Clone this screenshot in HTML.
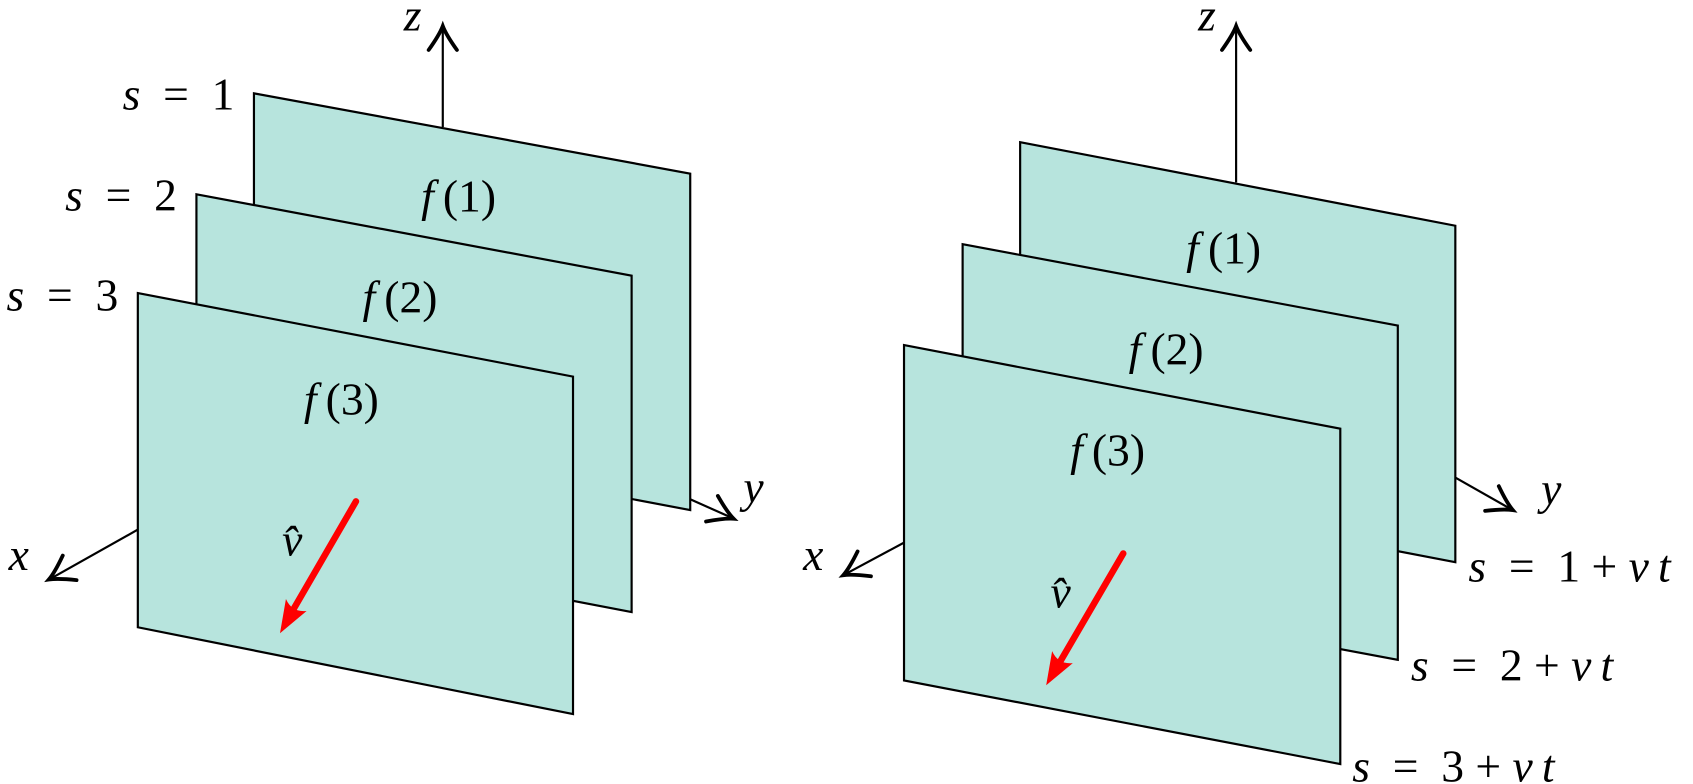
<!DOCTYPE html>
<html><head><meta charset="utf-8"><style>
html,body{margin:0;padding:0;background:#fff;}
svg{display:block;}
text{font-family:"Liberation Serif",serif;font-size:42px;fill:#000;}
.i{font-style:italic;}
</style></head><body>
<svg width="1693" height="784" viewBox="0 0 1560 722.4" xmlns="http://www.w3.org/2000/svg">
<defs>
<g id="ah"><path d="M-22,-13 Q-8,-3 0,0 Q-8,3 -22,13" fill="none" stroke="#000" stroke-width="3.5" stroke-linecap="round"/></g>
<g id="rh"><path d="M-26,-11 L4,0 L-26,11 Q-18,0 -26,-11Z" fill="#f00"/></g>
</defs>
<g stroke="#000" stroke-width="2" fill="#b7e4dd">
<line x1="408" y1="117" x2="408" y2="26" />
<use href="#ah" transform="translate(408,24) rotate(-90)"/>
<line x1="636" y1="460" x2="674" y2="477"/>
<use href="#ah" transform="translate(676,478) rotate(24.8)"/>
<polygon points="234,86 636,160 636,470 234,394"/>
<polygon points="181,179 582,254 582,564 181,487"/>
<polygon points="127,270 528,347 528,658 127,578"/>
<line x1="127" y1="488" x2="47" y2="533"/>
<use href="#ah" transform="translate(45,534) rotate(150.7)"/>
<line x1="1139" y1="168" x2="1139" y2="26"/>
<use href="#ah" transform="translate(1139,24) rotate(-90)"/>
<line x1="1341" y1="440" x2="1392" y2="469"/>
<use href="#ah" transform="translate(1394,470) rotate(29)"/>
<polygon points="940,131 1341,208 1341,518 940,441"/>
<polygon points="887,225 1288,300 1288,608 887,533"/>
<polygon points="833,318 1235,395 1235,704 833,627"/>
<line x1="833" y1="500" x2="779" y2="529"/>
<use href="#ah" transform="translate(777,530) rotate(151.7)"/>
</g>
<line x1="328" y1="462" x2="266" y2="569" stroke="#f00" stroke-width="6" stroke-linecap="round"/>
<use href="#rh" transform="translate(260,580) rotate(120)"/>
<line x1="1035" y1="510" x2="972" y2="618" stroke="#f00" stroke-width="6" stroke-linecap="round"/>
<use href="#rh" transform="translate(966,628) rotate(120)"/>
<text x="372" y="28" class="i">z</text>
<text x="685" y="463" class="i">y</text>
<text x="8" y="525" class="i">x</text>
<text x="113" y="101"><tspan class="i">s</tspan>&#8194;=&#8194;1</text>
<text x="60" y="194"><tspan class="i">s</tspan>&#8194;=&#8194;2</text>
<text x="6" y="286"><tspan class="i">s</tspan>&#8194;=&#8194;3</text>
<text x="388" y="195"><tspan class="i">f</tspan>&#8201;(1)</text>
<text x="334" y="288"><tspan class="i">f</tspan>&#8201;(2)</text>
<text x="280" y="382"><tspan class="i">f</tspan>&#8201;(3)</text>
<text x="260" y="512" class="i">v̂</text>
<text x="1104" y="28" class="i">z</text>
<text x="1420" y="465" class="i">y</text>
<text x="740" y="525" class="i">x</text>
<text x="1093" y="243"><tspan class="i">f</tspan>&#8201;(1)</text>
<text x="1040" y="336"><tspan class="i">f</tspan>&#8201;(2)</text>
<text x="986" y="429"><tspan class="i">f</tspan>&#8201;(3)</text>
<text x="968" y="560" class="i">v̂</text>
<text x="1353" y="536"><tspan class="i">s</tspan>&#8194;=&#8194;1 + <tspan class="i">v</tspan>&#8201;<tspan class="i">t</tspan></text>
<text x="1300" y="627"><tspan class="i">s</tspan>&#8194;=&#8194;2 + <tspan class="i">v</tspan>&#8201;<tspan class="i">t</tspan></text>
<text x="1246" y="720"><tspan class="i">s</tspan>&#8194;=&#8194;3 + <tspan class="i">v</tspan>&#8201;<tspan class="i">t</tspan></text>
</svg>
</body></html>
